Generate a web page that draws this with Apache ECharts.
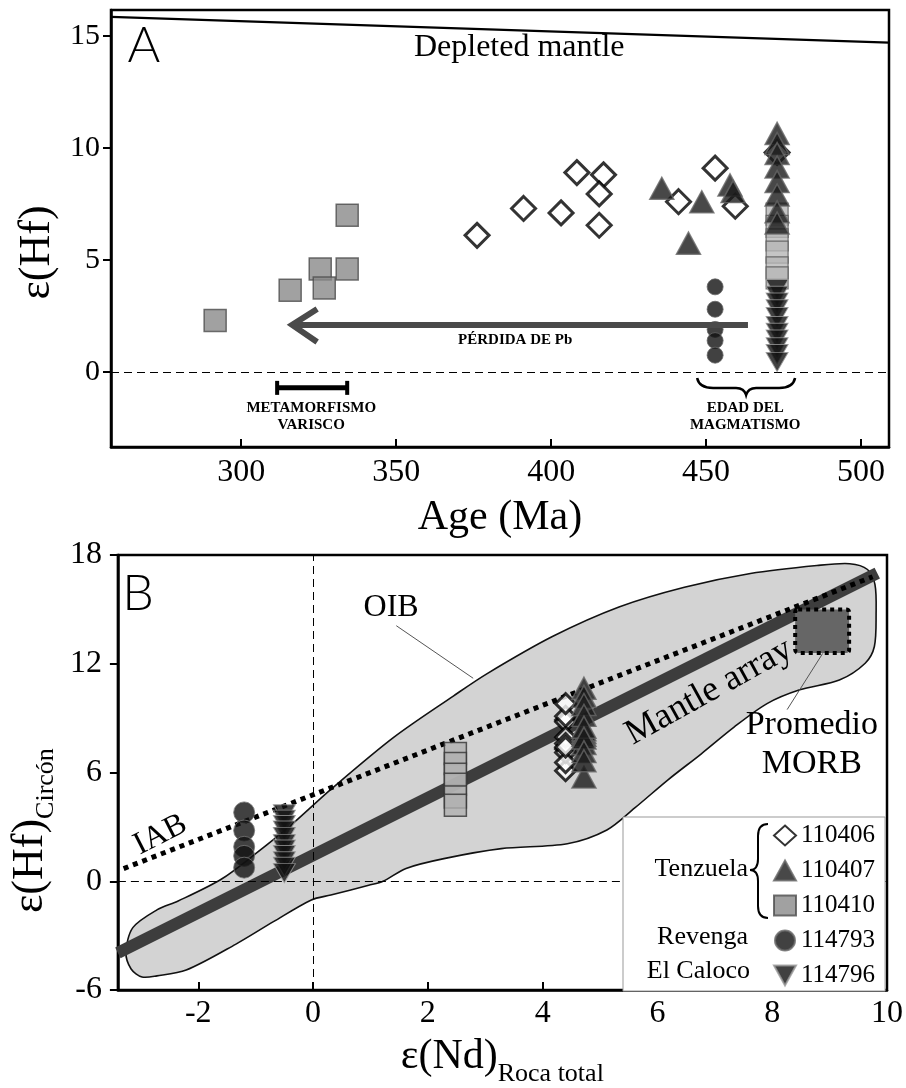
<!DOCTYPE html>
<html>
<head>
<meta charset="utf-8">
<script src="https://cdn.jsdelivr.net/npm/echarts@6.0.0/dist/echarts.min.js"></script>
<style>html,body{margin:0;padding:0;background:#fff;}#chart{width:906px;height:1088px;}</style>
</head>
<body>
<div id="chart"></div>
<script>
// ---------------- data ----------------
const ageTicks = [300, 350, 400, 450, 500];
const hfTicksA = [0, 5, 10, 15];
const ndTicks = [-2, 0, 2, 4, 6, 8, 10];
const hfTicksB = [-6, 0, 6, 12, 18];
const sampleNames = ['110406', '110407', '110410', '114793', '114796'];

// Panel A: zircon [U-Pb age (Ma), εHf(t)]
const zr110406 = [[376.1, 6.1], [391.1, 7.3], [403.2, 7.1], [408.3, 8.9], [416.9, 8.8], [415.5, 7.95], [415.5, 6.55], [441.1, 7.6], [452.9, 9.1], [459.4, 7.4], [472.9, 9.8]];
const zr110407 = [[435.7, 8.2], [448.6, 7.6], [444.3, 5.75], [457.7, 8.35], [458.7, 8.05], [472.9, 10.65], [472.9, 10.2], [472.9, 9.75], [472.9, 9.15], [472.9, 8.5], [472.9, 7.9], [472.9, 7.15], [472.9, 6.65]];
const zr110410PbLoss = [[291.6, 2.3], [315.8, 3.65], [325.5, 4.6], [326.8, 3.75], [334.2, 4.6], [334.2, 7.0]];
const zr110410 = [[472.9, 7.05], [472.9, 6.5], [472.9, 5.9], [472.9, 5.35], [472.9, 4.65], [472.9, 4.2]];
const zr114793 = [[452.9, 3.8], [452.9, 2.8], [452.9, 1.9], [452.9, 1.4], [452.9, 0.75]];
const zr114796 = [[472.9, 3.7], [472.9, 3.4], [472.9, 3.1], [472.9, 2.8], [472.9, 2.45], [472.9, 2.05], [472.9, 1.75], [472.9, 1.45], [472.9, 1.1], [472.9, 0.8], [472.9, 0.45]];
const depletedMantle = [[258, 15.85], [509, 14.7]];

// Panel B: whole-rock εNd per sample
const ndWR110406 = 4.4;
const ndWR110407 = 4.72;
const ndWR110410 = 2.48;
const ndWR114793 = -1.2;
const ndWR114796 = -0.5;
const mantleArray = [[-3.4, -3.95], [9.83, 17.0]];
const iabOib = [[-3.3, 0.7], [9.75, 16.8]];
const morbBox = [[8.4, 12.6], [9.34, 15.0]];
const fieldOutline = [
  [-3.26, -3.92], [-3.14, -2.56], [-2.72, -1.58], [-2.35, -1.09], [-1.6, 0.11], [-1.0, 1.52], [-0.4, 3.05],
  [0.33, 5.12], [1.41, 7.95], [2.45, 10.23], [3.02, 11.43], [4.17, 13.5], [5.33, 15.13], [6.47, 16.22],
  [7.62, 16.98], [8.78, 17.42], [9.35, 17.52], [9.66, 17.2], [9.79, 16.38], [9.81, 14.75], [9.78, 12.95],
  [9.62, 12.03], [9.17, 11.1], [8.48, 10.56], [7.91, 9.8], [7.33, 8.49], [6.76, 7.02], [6.19, 5.61],
  [5.6, 4.03], [5.12, 2.83], [4.43, 2.07], [3.28, 1.8], [2.28, 1.25], [1.62, 0.71], [1.22, 0.0],
  [0.97, -0.22], [0.31, -0.76], [-0.03, -1.03], [-0.69, -2.23], [-1.35, -3.48], [-2.21, -4.9],
  [-2.72, -5.22], [-2.98, -5.28], [-3.17, -4.84]
];

// annotation anchors (data coordinates)
const pbLossArrow = [[463.5, 2.1], [315.8, 2.1]];
const variscanBar = [311.6, 334.2, -0.71];
const magmaBrace = [447.1, 478.7, -0.27];
const textsA = [
  ['Depleted mantle', 389.7, 14.46, 'normal', 32],
  ['PÉRDIDA DE Pb', 388.4, 1.43, 'bold', 15],
  ['METAMORFISMO', 322.6, -1.61, 'bold', 15],
  ['VARISCO', 322.6, -2.37, 'bold', 15],
  ['EDAD DEL', 462.6, -1.61, 'bold', 15],
  ['MAGMATISMO', 462.6, -2.37, 'bold', 15]
];
const textsB = [
  ['OIB', 1.36, 15.1, 32, 0],
  ['Mantle array', 6.9, 10.45, 36, 29],
  ['Promedio', 8.69, 8.6, 34, 0],
  ['MORB', 8.69, 6.45, 34, 0],
  ['IAB', -2.66, 2.56, 32, 27]
];
const oibLeader = [[1.45, 14.1], [2.79, 11.2]];
const morbLeader = [[8.88, 12.57], [8.26, 9.47]];

// ---------------- chart ----------------
const SERIF = '"Liberation Serif", "Times New Roman", serif';
const DOWN_TRI = 'path://M0,0L20,0L10,18Z';
const chart = echarts.init(document.getElementById('chart'));

function axisBase(fontSize, margin, inside, customValues) {
  return {
    type: 'value',
    axisLine: { show: true, onZero: false, lineStyle: { color: '#000', width: 2.5 } },
    axisTick: { show: true, inside: inside, length: 8, customValues: customValues, lineStyle: { color: '#000', width: 2 } },
    axisLabel: { color: '#000', fontFamily: SERIF, fontSize: fontSize, margin: margin, customValues: customValues },
    splitLine: { show: false }
  };
}

const symA = {
  '110406': { symbol: 'diamond', symbolSize: 24, itemStyle: { color: '#fff', borderColor: '#000', borderWidth: 3 } },
  '110407': { symbol: 'triangle', symbolSize: [24, 22], itemStyle: { color: '#1a1a1a', borderColor: '#666', borderWidth: 1.5 } },
  '114793': { symbol: 'circle', symbolSize: 16, itemStyle: { color: '#111', borderColor: '#666', borderWidth: 1 } },
  '114796': { symbol: DOWN_TRI, symbolSize: [22, 19], itemStyle: { color: '#111', borderColor: '#999', borderWidth: 1 } }
};

function scatter(name, data, grid, style, z) {
  return Object.assign({
    type: 'scatter', name: name, data: data, xAxisIndex: grid, yAxisIndex: grid, z: z || 5, silent: true
  }, style);
}

function textEl(txt, p, font, rotDeg) {
  return {
    type: 'text', x: p[0], y: p[1], rotation: (rotDeg || 0) * Math.PI / 180,
    style: { text: txt, font: font, fill: '#000', align: 'center', verticalAlign: 'middle', textAlign: 'center', textVerticalAlign: 'middle' }
  };
}

function renderAnnotA(params, api) {
  const kids = [];
  const a0 = api.coord(pbLossArrow[0]), a1 = api.coord(pbLossArrow[1]);
  kids.push({ type: 'line', shape: { x1: a0[0], y1: a0[1], x2: a1[0] + 4, y2: a1[1] }, style: { stroke: '#4a4a4a', lineWidth: 6 } });
  kids.push({ type: 'polyline', shape: { points: [[a1[0] + 27, a1[1] - 16], [a1[0] + 2, a1[1]], [a1[0] + 27, a1[1] + 17]] }, style: { stroke: '#4a4a4a', lineWidth: 6, fill: null } });
  const b0 = api.coord([variscanBar[0], variscanBar[2]]), b1 = api.coord([variscanBar[1], variscanBar[2]]);
  kids.push({ type: 'line', shape: { x1: b0[0], y1: b0[1], x2: b1[0], y2: b1[1] }, style: { stroke: '#000', lineWidth: 5 } });
  kids.push({ type: 'line', shape: { x1: b0[0], y1: b0[1] - 7, x2: b0[0], y2: b0[1] + 7 }, style: { stroke: '#000', lineWidth: 4 } });
  kids.push({ type: 'line', shape: { x1: b1[0], y1: b1[1] - 7, x2: b1[0], y2: b1[1] + 7 }, style: { stroke: '#000', lineWidth: 4 } });
  const L = api.coord([magmaBrace[0], magmaBrace[2]]), R = api.coord([magmaBrace[1], magmaBrace[2]]);
  const xl = L[0], xr = R[0], yt = L[1], ym = yt + 10, tip = yt + 17, xm = (xl + xr) / 2;
  const d = 'M' + xl + ',' + yt + ' Q' + (xl + 2) + ',' + ym + ' ' + (xl + 16) + ',' + ym +
    ' L' + (xm - 10) + ',' + ym + ' Q' + (xm - 2) + ',' + ym + ' ' + xm + ',' + tip +
    ' Q' + (xm + 2) + ',' + ym + ' ' + (xm + 10) + ',' + ym +
    ' L' + (xr - 16) + ',' + ym + ' Q' + (xr - 2) + ',' + ym + ' ' + xr + ',' + yt;
  kids.push({ type: 'path', shape: { pathData: d }, style: { stroke: '#000', lineWidth: 2.5, fill: null } });
  textsA.forEach(t => {
    kids.push(textEl(t[0], api.coord([t[1], t[2]]), t[3] + ' ' + t[4] + 'px ' + SERIF, 0));
  });
  return { type: 'group', children: kids };
}

function renderField(params, api) {
  const pts = fieldOutline.map(p => api.coord(p));
  return { type: 'polygon', shape: { points: pts, smooth: 0.3 }, style: { fill: '#d3d3d3', stroke: '#111', lineWidth: 1.6 } };
}

function renderAnnotB(params, api) {
  const kids = [];
  const o0 = api.coord(oibLeader[0]), o1 = api.coord(oibLeader[1]);
  kids.push({ type: 'line', shape: { x1: o0[0], y1: o0[1], x2: o1[0], y2: o1[1] }, style: { stroke: '#555', lineWidth: 1 } });
  const m0 = api.coord(morbLeader[0]), m1 = api.coord(morbLeader[1]);
  kids.push({ type: 'line', shape: { x1: m0[0], y1: m0[1], x2: m1[0], y2: m1[1] }, style: { stroke: '#555', lineWidth: 1 } });
  const r0 = api.coord(morbBox[0]), r1 = api.coord(morbBox[1]);
  kids.push({ type: 'rect', shape: { x: r0[0], y: r1[1], width: r1[0] - r0[0], height: r0[1] - r1[1], r: 3 },
    style: { fill: '#666', stroke: '#000', lineWidth: 4, lineDash: [4, 4] } });
  textsB.forEach(t => {
    kids.push(textEl(t[0], api.coord([t[1], t[2]]), t[3] + 'px ' + SERIF, t[4]));
  });
  return { type: 'group', children: kids };
}

const zeroDash = { type: [8, 5], color: '#000', width: 1 };

const option = {
  animation: false,
  backgroundColor: '#fff',
  grid: [
    { left: 111, top: 10, width: 778, height: 437, show: true, borderColor: '#000', borderWidth: 2.5, backgroundColor: 'transparent' },
    { left: 111, top: 555, width: 777, height: 441, show: true, borderColor: '#000', borderWidth: 2.5, backgroundColor: 'transparent' }
  ],
  xAxis: [
    Object.assign(axisBase(32, 10, true, ageTicks), {
      gridIndex: 0, min: 258, max: 509,
      name: 'Age (Ma)', nameLocation: 'middle', nameGap: 50,
      nameTextStyle: { fontFamily: SERIF, fontSize: 42, color: '#000' }
    }),
    Object.assign(axisBase(32, 8, true, ndTicks), {
      gridIndex: 1, min: -3.4, max: 10,
      name: '{a|ε(Nd)}{b|Roca total}{s| }', nameLocation: 'middle', nameGap: 46,
      nameTextStyle: { fontFamily: SERIF, color: '#000', rich: {
        a: { fontFamily: SERIF, fontSize: 42, lineHeight: 44, verticalAlign: 'top', color: '#000' },
        b: { fontFamily: SERIF, fontSize: 26, lineHeight: 26, verticalAlign: 'bottom', color: '#000' },
        s: { fontSize: 1, lineHeight: 51 } } }
    })
  ],
  yAxis: [
    Object.assign(axisBase(30, 11, false, hfTicksA), {
      gridIndex: 0, min: -3.35, max: 16.16,
      name: 'ε(Hf)', nameLocation: 'middle', nameGap: 41, nameRotate: 90,
      nameTextStyle: { fontFamily: SERIF, fontSize: 44, color: '#000', padding: [0, 48, 0, 0] }
    }),
    Object.assign(axisBase(32, 16, false, hfTicksB), {
      gridIndex: 1, min: -6, max: 18,
      name: '{a|ε(Hf)}{b|Circón}{s| }', nameLocation: 'middle', nameGap: 49, nameRotate: 90,
      nameTextStyle: { fontFamily: SERIF, color: '#000', padding: [0, 116, 0, 0], rich: {
        a: { fontFamily: SERIF, fontSize: 44, lineHeight: 46, verticalAlign: 'top', color: '#000' },
        b: { fontFamily: SERIF, fontSize: 26, lineHeight: 26, verticalAlign: 'bottom', color: '#000' },
        s: { fontSize: 1, lineHeight: 51 } } }
    })
  ],
  legend: {
    data: [
      { name: '110406', icon: 'diamond' },
      { name: '110407', icon: 'triangle' },
      { name: '110410', icon: 'rect' },
      { name: '114793', icon: 'circle' },
      { name: '114796', icon: DOWN_TRI }
    ],
    orient: 'vertical', left: 623, top: 817,
    padding: [6, 10, 3, 150],
    itemWidth: 22, itemHeight: 20, itemGap: 10,
    textStyle: { fontFamily: SERIF, fontSize: 25, lineHeight: 24, color: '#000' },
    borderColor: '#999', borderWidth: 1, backgroundColor: '#fff',
    selectedMode: false, z: 20
  },
  graphic: [
    { type: 'text', x: 144, y: 46, z: 100, style: { text: 'A', font: '300 50px Lato, "Open Sans", sans-serif', fill: '#000', align: 'center', verticalAlign: 'middle', textAlign: 'center', textVerticalAlign: 'middle' } },
    { type: 'text', x: 138, y: 594, z: 100, style: { text: 'B', font: '300 50px Lato, "Open Sans", sans-serif', fill: '#000', align: 'center', verticalAlign: 'middle', textAlign: 'center', textVerticalAlign: 'middle' } },
    { type: 'text', x: 748, y: 869, z: 100, style: { text: 'Tenzuela', font: '26px ' + SERIF, fill: '#000', align: 'right', verticalAlign: 'middle', textAlign: 'right', textVerticalAlign: 'middle' } },
    { type: 'text', x: 748, y: 937, z: 100, style: { text: 'Revenga', font: '26px ' + SERIF, fill: '#000', align: 'right', verticalAlign: 'middle', textAlign: 'right', textVerticalAlign: 'middle' } },
    { type: 'text', x: 750, y: 971, z: 100, style: { text: 'El Caloco', font: '26px ' + SERIF, fill: '#000', align: 'right', verticalAlign: 'middle', textAlign: 'right', textVerticalAlign: 'middle' } },
    { type: 'bezierCurve', z: 100, shape: { x1: 768, y1: 824, cpx1: 758, cpy1: 824, x2: 758, y2: 836 }, style: { stroke: '#000', lineWidth: 2, fill: null } },
    { type: 'line', z: 100, shape: { x1: 758, y1: 836, x2: 758, y2: 859 }, style: { stroke: '#000', lineWidth: 2 } },
    { type: 'bezierCurve', z: 100, shape: { x1: 758, y1: 859, cpx1: 758, cpy1: 870, x2: 750, y2: 870 }, style: { stroke: '#000', lineWidth: 2, fill: null } },
    { type: 'bezierCurve', z: 100, shape: { x1: 750, y1: 870, cpx1: 758, cpy1: 870, x2: 758, y2: 881 }, style: { stroke: '#000', lineWidth: 2, fill: null } },
    { type: 'line', z: 100, shape: { x1: 758, y1: 881, x2: 758, y2: 906 }, style: { stroke: '#000', lineWidth: 2 } },
    { type: 'bezierCurve', z: 100, shape: { x1: 758, y1: 906, cpx1: 758, cpy1: 918, x2: 768, y2: 918 }, style: { stroke: '#000', lineWidth: 2, fill: null } }
  ],
  series: [
    // ---- panel A ----
    { type: 'line', name: 'Depleted mantle', data: depletedMantle, xAxisIndex: 0, yAxisIndex: 0, showSymbol: false, silent: true,
      lineStyle: { color: '#000', width: 2.2 }, z: 3,
      markLine: { silent: true, symbol: 'none', label: { show: false }, lineStyle: zeroDash, data: [{ yAxis: 0 }] } },
    scatter('110410', zr110410PbLoss, 0, { symbol: 'rect', symbolSize: 22, itemStyle: { color: '#8a8a8a', borderColor: '#4d4d4d', borderWidth: 1.5 } }),
    scatter('110410', zr110410, 0, { symbol: 'rect', symbolSize: 22, itemStyle: { color: '#b6b6b6', borderColor: '#555', borderWidth: 1.2 } }),
    scatter('114796', zr114796, 0, symA['114796']),
    scatter('110406', zr110406, 0, symA['110406']),
    scatter('110407', zr110407, 0, symA['110407']),
    scatter('114793', zr114793, 0, symA['114793']),
    { type: 'custom', name: 'annotA', xAxisIndex: 0, yAxisIndex: 0, data: [[300, 0]], renderItem: renderAnnotA, z: 8, silent: true },
    // ---- panel B ----
    { type: 'custom', name: 'field', xAxisIndex: 1, yAxisIndex: 1, data: [[0, 0]], renderItem: renderField, z: 1, silent: true },
    { type: 'line', name: 'Mantle array', data: mantleArray, xAxisIndex: 1, yAxisIndex: 1, showSymbol: false, silent: true,
      lineStyle: { color: '#3d3d3d', width: 12, cap: 'butt' }, z: 3,
      markLine: { silent: true, symbol: 'none', label: { show: false }, lineStyle: zeroDash, data: [{ yAxis: 0 }, { xAxis: 0 }] } },
    { type: 'line', name: 'IAB-OIB', data: iabOib, xAxisIndex: 1, yAxisIndex: 1, showSymbol: false, silent: true,
      lineStyle: { color: '#000', width: 5, type: [5, 5] }, z: 4 },
    scatter('110410', zr110410.map(p => [ndWR110410, p[1]]), 1, { symbol: 'rect', symbolSize: 22, itemStyle: { color: '#b0b0b0', borderColor: '#333', borderWidth: 1.5 } }),
    scatter('114796', zr114796.map(p => [ndWR114796, p[1]]), 1, symA['114796']),
    scatter('110406', zr110406.map(p => [ndWR110406, p[1]]), 1, { symbol: 'diamond', symbolSize: 20, itemStyle: { color: '#fff', borderColor: '#000', borderWidth: 3 } }),
    scatter('110407', zr110407.map(p => [ndWR110407, p[1]]), 1, symA['110407']),
    scatter('114793', zr114793.map(p => [ndWR114793, p[1]]), 1, { symbol: 'circle', symbolSize: 21, itemStyle: { color: '#111', borderColor: '#777', borderWidth: 1 } }),
    { type: 'custom', name: 'annotB', xAxisIndex: 1, yAxisIndex: 1, data: [[0, 0]], renderItem: renderAnnotB, z: 8, silent: true }
  ]
};
chart.setOption(option);
</script>
</body>
</html>
